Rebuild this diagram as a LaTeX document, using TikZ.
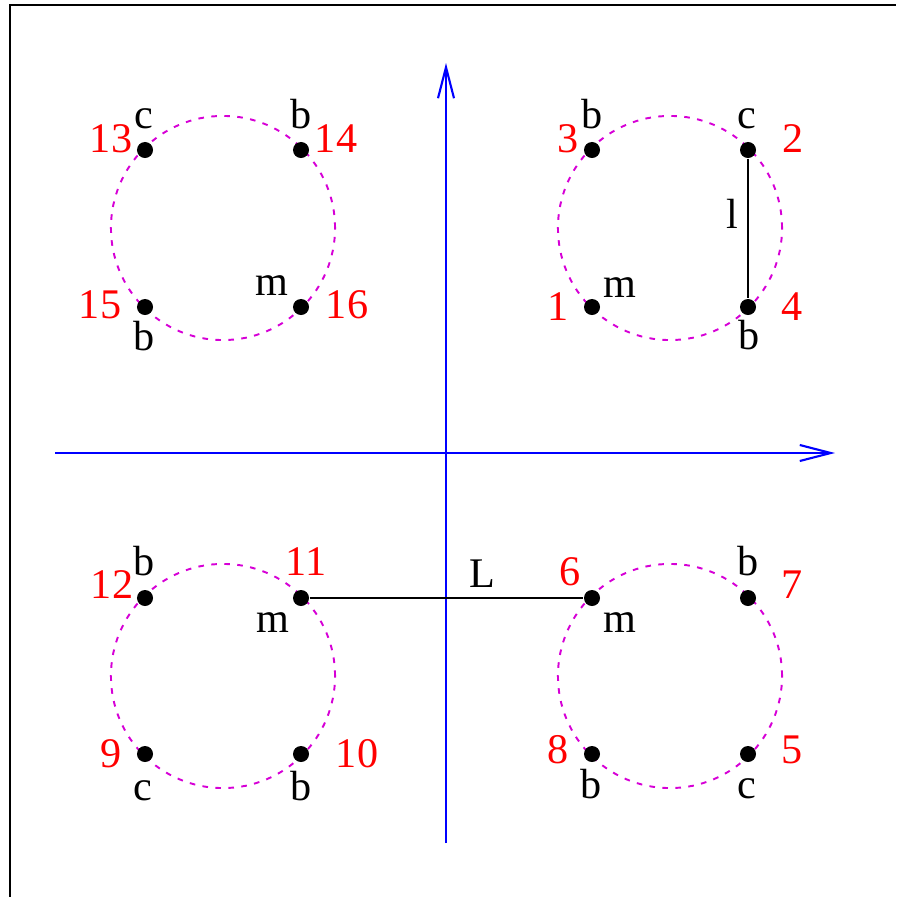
\documentclass[tikz,border=0pt]{standalone}
\usepackage{fontspec}
\setmainfont{Liberation Serif}
\usepackage{xcolor}
\usepackage{tikz}
\usetikzlibrary{arrows.meta, positioning}
\definecolor{orbitcol}{RGB}{214,0,214}

\begin{document}
\begin{tikzpicture}[
  x=0.01cm, y=-0.01cm,
  font=\fontsize{12}{14}\selectfont,
  dot/.style={circle, fill=black, inner sep=0pt, minimum size=0.16cm},
  lbl/.style={inner sep=0pt, anchor=base},
  num/.style={lbl, text=red},
  axis/.style={draw=blue, line width=0.6pt, -{Straight Barb[length=3.1mm, width=1.6mm]}},
  orbit/.style={draw=orbitcol, line width=0.55pt, dash pattern=on 1.6pt off 2.1pt},
  link/.style={draw=black, line width=0.6pt}
]
  \useasboundingbox (0,0) rectangle (896,897);
  \draw[line width=0.6pt] (10,897) -- (10,5) -- (896,5);

  % axes
  \coordinate (xa) at (55,453);
  \coordinate (xb) at (835,453);
  \coordinate (ya) at (446,843);
  \coordinate (yb) at (446,63);
  \draw[axis] (xa) -- (xb);
  \draw[axis] (ya) -- (yb);

  % dashed circles
  \draw[orbit] (223,228) circle[radius=1.12cm];
  \draw[orbit] (670,228) circle[radius=1.12cm];
  \draw[orbit] (223,676) circle[radius=1.12cm];
  \draw[orbit] (670,676) circle[radius=1.12cm];

  % points
  \node[dot] (p1)  at (592,307) {};
  \node[dot] (p2)  at (748,150) {};
  \node[dot] (p3)  at (592,150) {};
  \node[dot] (p4)  at (748,307) {};
  \node[dot] (p5)  at (748,754) {};
  \node[dot] (p6)  at (592,598) {};
  \node[dot] (p7)  at (748,598) {};
  \node[dot] (p8)  at (592,754) {};
  \node[dot] (p9)  at (145,754) {};
  \node[dot] (p10) at (301,754) {};
  \node[dot] (p11) at (301,598) {};
  \node[dot] (p12) at (145,598) {};
  \node[dot] (p13) at (145,150) {};
  \node[dot] (p14) at (301,150) {};
  \node[dot] (p15) at (145,307) {};
  \node[dot] (p16) at (301,307) {};

  \draw[link] (p2) -- (p4);
  \draw[link] (p11) -- (p6);
  \node[lbl] (ll) at (732,228) {l};
  \node[lbl] (bigl) at (482,587) {L};

  % numbers
  \node[num] (n1)  at (558,320) {1};
  \node[num] (n2)  at (793,152) {2};
  \node[num] (n3)  at (568,152) {3};
  \node[num] (n4)  at (792,320) {4};
  \node[num] (n5)  at (792,763) {5};
  \node[num] (n6)  at (570,585) {6};
  \node[num] (n7)  at (792,598) {7};
  \node[num] (n8)  at (558,763) {8};
  \node[num] (n9)  at (111,767) {9};
  \node[num] (n10) at (357,767) {10};
  \node[num] (n11) at (306,575) {11};
  \node[num] (n12) at (112,598) {12};
  \node[num] (n13) at (111,152) {13};
  \node[num] (n14) at (336,152) {14};
  \node[num] (n15) at (100,318) {15};
  \node[num] (n16) at (347,318) {16};

  % letters
  \node[lbl] (t1)  at (620,297) {m};
  \node[lbl] (t2)  at (747,128) {c};
  \node[lbl] (t3)  at (592,128) {b};
  \node[lbl] (t4)  at (749,349) {b};
  \node[lbl] (t5)  at (747,798) {c};
  \node[lbl] (t6)  at (620,632) {m};
  \node[lbl] (t7)  at (748,575) {b};
  \node[lbl] (t8)  at (591,798) {b};
  \node[lbl] (t9)  at (143,800) {c};
  \node[lbl] (t10) at (301,800) {b};
  \node[lbl] (t11) at (273,632) {m};
  \node[lbl] (t12) at (144,575) {b};
  \node[lbl] (t13) at (144,128) {c};
  \node[lbl] (t14) at (301,128) {b};
  \node[lbl] (t15) at (144,350) {b};
  \node[lbl] (t16) at (272,295) {m};
\end{tikzpicture}
\end{document}
